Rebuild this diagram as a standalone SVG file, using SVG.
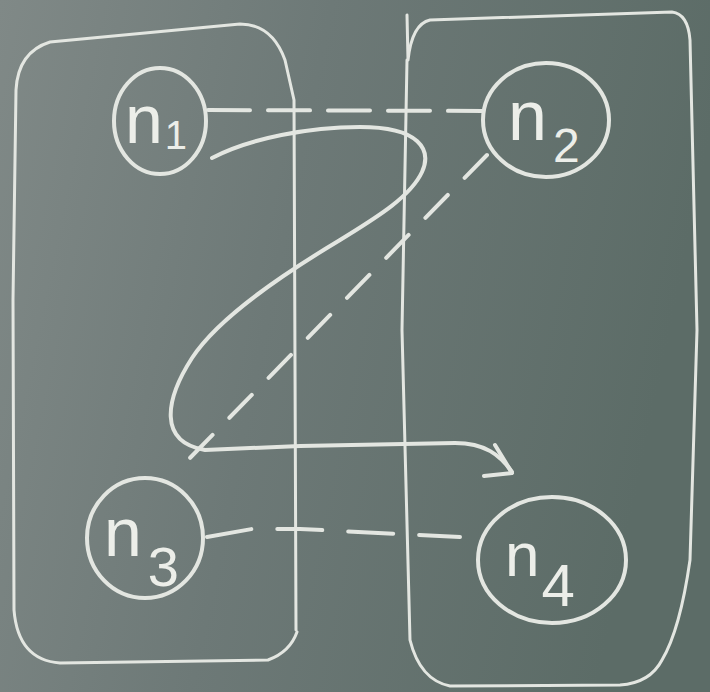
<svg xmlns="http://www.w3.org/2000/svg" width="710" height="692" viewBox="0 0 710 692">
  <defs>
    <linearGradient id="board" x1="0" y1="0" x2="1" y2="0.2">
      <stop offset="0" stop-color="#808987"/>
      <stop offset="0.45" stop-color="#6d7977"/>
      <stop offset="1" stop-color="#5c6c67"/>
    </linearGradient>
    <style>
      .chalk{fill:none;stroke:#e3e6e1;stroke-width:4;stroke-linecap:round;stroke-linejoin:round}
      .thin{stroke-width:3}
      .dash1{stroke-dasharray:42 18}
      .dash2{stroke-dasharray:32 24}
      .dash3{stroke-dasharray:45 26}
      .lbl{font-family:"Liberation Sans",Arial,sans-serif;fill:#eceee9}
    </style>
  </defs>
  <rect width="710" height="692" fill="url(#board)"/>

  <g id="containers">
    <path class="chalk thin" d="M 296 630 L 294 100 L 285 60 Q 272 24 240 24 L 50 42 Q 18 52 16 90 L 13 300 L 14 610 Q 18 660 60 663 L 268 660 Q 290 652 297 632"/>
    <path class="chalk thin" d="M 407 15 L 408 60 Q 412 24 430 20 L 672 12 Q 688 14 690 40 L 697 330 L 690 560 Q 680 630 662 660 Q 650 683 620 685 L 450 686 Q 420 680 410 640 L 402 330 L 407 60"/>
  </g>

  <g id="connectors">
    <line class="chalk dash1" x1="208" y1="110" x2="483" y2="111"/>
    <path class="chalk dash3" d="M 207 537 L 252 529 L 300 529 L 460 537"/>
    <line class="chalk dash2" x1="487" y1="155" x2="186" y2="462"/>
    <path class="chalk" d="M 212 158 C 250 138 310 127 360 127 C 420 127 432 150 422 172 C 410 198 372 220 340 240 C 290 270 220 315 192 358 C 165 400 158 442 205 450 L 300 446 L 455 443 C 485 443 500 455 512 472"/>
    <polyline class="chalk" points="495,445 512,473 484,476"/>
  </g>

  <g id="n1">
    <ellipse class="chalk" cx="160" cy="121" rx="46" ry="53"/>
    <text class="lbl" x="125" y="143" font-size="68">n<tspan font-size="40" dx="2" dy="6">1</tspan></text>
  </g>
  <g id="n2">
    <ellipse class="chalk" cx="546" cy="120" rx="63" ry="57"/>
    <text class="lbl" x="508" y="140" font-size="70">n<tspan font-size="48" dx="6" dy="22">2</tspan></text>
  </g>
  <g id="n3">
    <ellipse class="chalk" cx="145" cy="538" rx="58" ry="60"/>
    <text class="lbl" x="104" y="556" font-size="68">n<tspan font-size="56" dx="6" dy="30">3</tspan></text>
  </g>
  <g id="n4">
    <ellipse class="chalk" cx="552" cy="560" rx="74" ry="63"/>
    <text class="lbl" x="505" y="576" font-size="62">n<tspan font-size="60" dx="2" dy="30">4</tspan></text>
  </g>
</svg>
